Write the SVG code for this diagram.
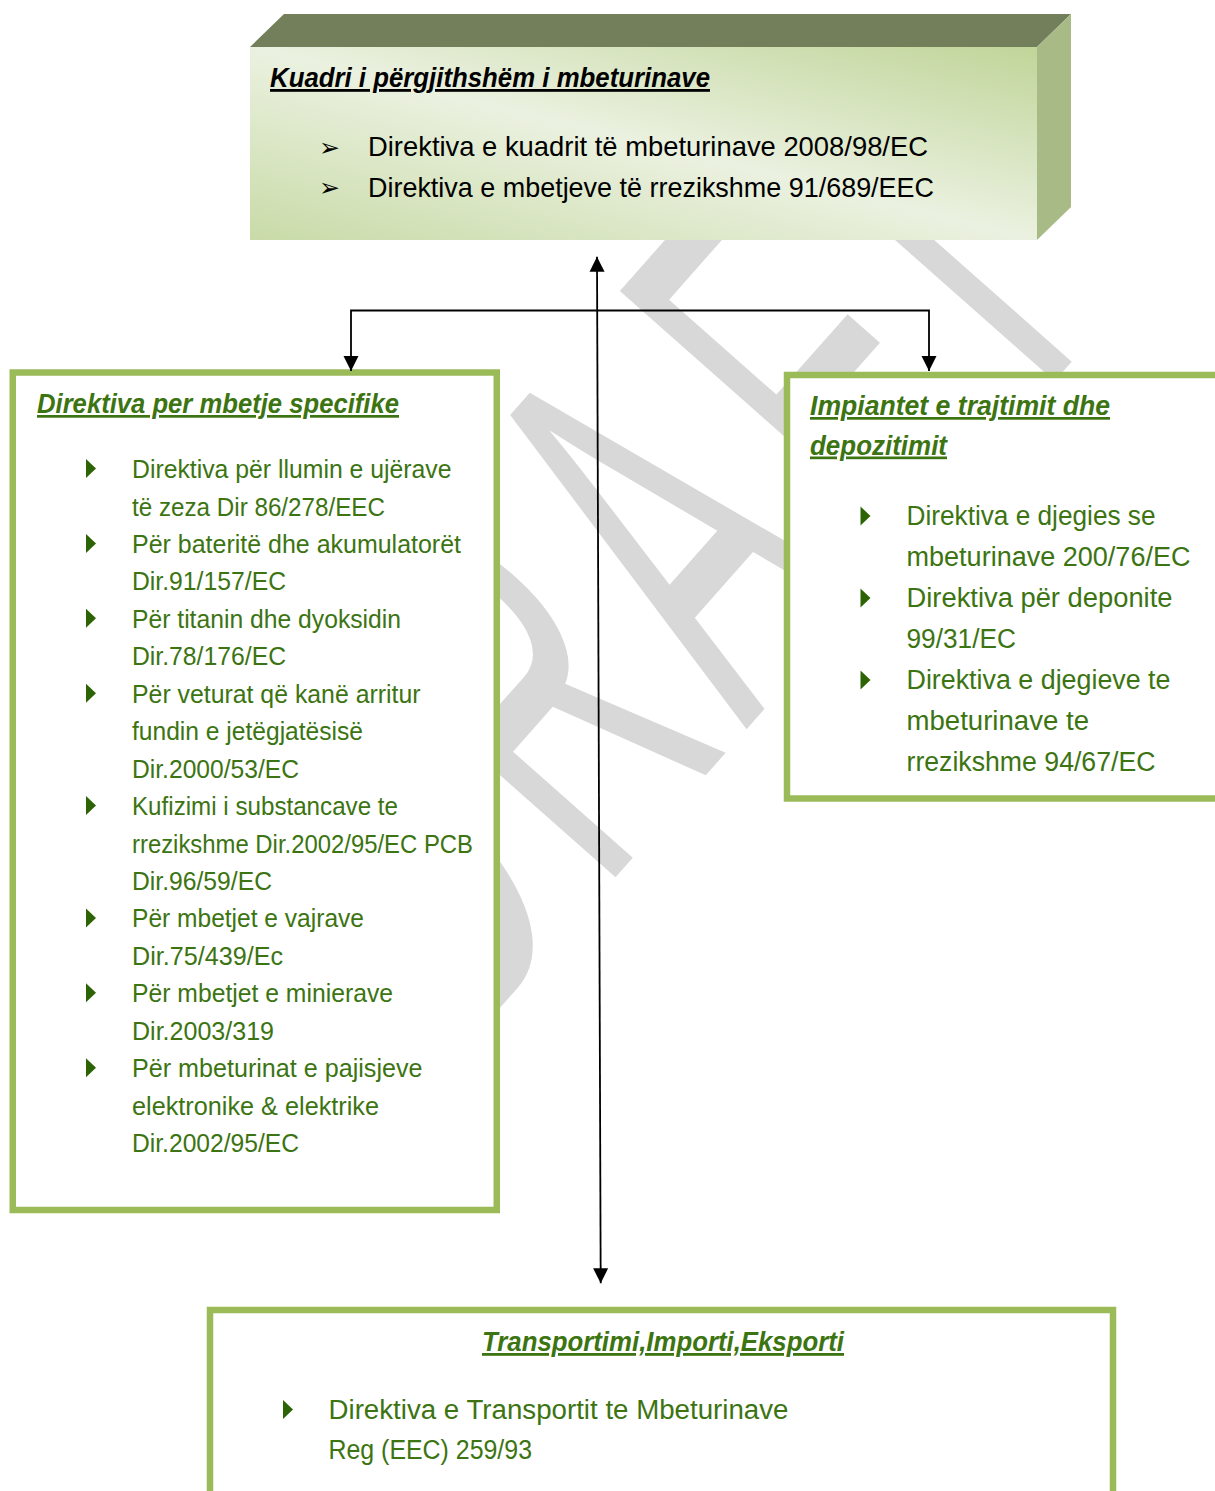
<svg xmlns="http://www.w3.org/2000/svg" width="1215" height="1491" viewBox="0 0 1215 1491">
<style>
.box{fill:#ffffff;stroke:#9bbb59;stroke-width:6.5}
.gt{fill:#3c7412;font-family:'Liberation Sans',Arial,sans-serif;font-weight:bold;font-style:italic;text-decoration:underline}
.gl{fill:#3c7412;font-family:'Liberation Sans',Arial,sans-serif;font-size:25px}
.gr{fill:#3c7412;font-family:'Liberation Sans',Arial,sans-serif;font-size:27px}
.bk{fill:#000000;font-family:'Liberation Sans',Arial,sans-serif;font-size:28px}
.arw{fill:#000000;font-family:'DejaVu Sans',sans-serif;font-size:25px}
.conn{fill:none;stroke:#000000;stroke-width:1.8}
</style>
<defs>
<linearGradient id="front" x1="0" y1="1" x2="1" y2="0">
<stop offset="0" stop-color="#c9dba8"/>
<stop offset="0.5" stop-color="#ebf1e0"/>
<stop offset="1" stop-color="#c0d599"/>
</linearGradient>
<path id="tri" d="M0,0 L10,9.5 L0,19 Z" fill="#2c6304"/>
<marker id="arr" markerUnits="userSpaceOnUse" markerWidth="16" markerHeight="16" viewBox="0 0 16 16" refX="15" refY="8" orient="auto-start-reverse">
<path d="M0,0.5 L15,8 L0,15.5 Z" fill="#000000"/>
</marker>
</defs>

<g id="watermark">
<text transform="translate(454.4,1059.4) rotate(-48.5) scale(0.5,1)" dx="0 36 36 70 0" font-family="'Liberation Sans',Arial,sans-serif" font-size="560" fill="#d8d8d8">DRAFT</text>
</g>

<g id="node-top">
<polygon points="250,47 284,14 1071,14 1037,47" fill="#737e5b"/>
<polygon points="1037,47 1071,14 1071,207 1037,240" fill="#a8ba86"/>
<rect x="250" y="47" width="787" height="193" fill="url(#front)"/>
<text class="bk" x="270" y="87" font-size="26" font-weight="bold" font-style="italic" text-decoration="underline" textLength="440" lengthAdjust="spacingAndGlyphs">Kuadri i përgjithshëm i mbeturinave</text>
<text class="arw" x="319" y="156">➢</text>
<text class="bk" x="368" y="156" textLength="560" lengthAdjust="spacingAndGlyphs">Direktiva e kuadrit të mbeturinave 2008/98/EC</text>
<text class="arw" x="319" y="196">➢</text>
<text class="bk" x="368" y="196.5" textLength="566" lengthAdjust="spacingAndGlyphs">Direktiva e mbetjeve të rrezikshme 91/689/EEC</text>
</g>

<g id="node-left">
<rect class="box" x="12.75" y="372.5" width="484" height="837.5"/>
<text class="gt" x="37" y="413" font-size="27" textLength="362" lengthAdjust="spacingAndGlyphs">Direktiva per mbetje specifike</text>
<use href="#tri" x="86" y="459"/>
<use href="#tri" x="86" y="533.9"/>
<use href="#tri" x="86" y="608.8"/>
<use href="#tri" x="86" y="683.7"/>
<use href="#tri" x="86" y="796"/>
<use href="#tri" x="86" y="908.4"/>
<use href="#tri" x="86" y="983.3"/>
<use href="#tri" x="86" y="1058.2"/>
<text class="gl" x="132" y="478" textLength="319.5" lengthAdjust="spacingAndGlyphs">Direktiva për llumin e ujërave</text>
<text class="gl" x="132" y="515.5" textLength="253" lengthAdjust="spacingAndGlyphs">të zeza  Dir 86/278/EEC</text>
<text class="gl" x="132" y="552.9" textLength="329" lengthAdjust="spacingAndGlyphs">Për bateritë dhe akumulatorët</text>
<text class="gl" x="132" y="590.4" textLength="154" lengthAdjust="spacingAndGlyphs">Dir.91/157/EC</text>
<text class="gl" x="132" y="627.8" textLength="269" lengthAdjust="spacingAndGlyphs">Për titanin dhe dyoksidin</text>
<text class="gl" x="132" y="665.3" textLength="154" lengthAdjust="spacingAndGlyphs">Dir.78/176/EC</text>
<text class="gl" x="132" y="702.7" textLength="288.5" lengthAdjust="spacingAndGlyphs">Për veturat që kanë arritur</text>
<text class="gl" x="132" y="740.2" textLength="231" lengthAdjust="spacingAndGlyphs">fundin e jetëgjatësisë</text>
<text class="gl" x="132" y="777.6" textLength="167" lengthAdjust="spacingAndGlyphs">Dir.2000/53/EC</text>
<text class="gl" x="132" y="815" textLength="266" lengthAdjust="spacingAndGlyphs">Kufizimi i substancave te</text>
<text class="gl" x="132" y="852.5" textLength="341" lengthAdjust="spacingAndGlyphs">rrezikshme Dir.2002/95/EC PCB</text>
<text class="gl" x="132" y="890" textLength="140" lengthAdjust="spacingAndGlyphs">Dir.96/59/EC</text>
<text class="gl" x="132" y="927.4" textLength="232" lengthAdjust="spacingAndGlyphs">Për mbetjet e vajrave</text>
<text class="gl" x="132" y="964.9" textLength="151" lengthAdjust="spacingAndGlyphs">Dir.75/439/Ec</text>
<text class="gl" x="132" y="1002.3" textLength="261" lengthAdjust="spacingAndGlyphs">Për mbetjet e minierave</text>
<text class="gl" x="132" y="1039.8" textLength="142" lengthAdjust="spacingAndGlyphs">Dir.2003/319</text>
<text class="gl" x="132" y="1077.2" textLength="290.5" lengthAdjust="spacingAndGlyphs">Për mbeturinat  e pajisjeve</text>
<text class="gl" x="132" y="1114.7" textLength="247" lengthAdjust="spacingAndGlyphs">elektronike &amp; elektrike</text>
<text class="gl" x="132" y="1152.1" textLength="167" lengthAdjust="spacingAndGlyphs">Dir.2002/95/EC</text>
</g>

<g id="node-right">
<rect class="box" x="787" y="375" width="440" height="423.5"/>
<text class="gt" x="810" y="415" font-size="27" textLength="300" lengthAdjust="spacingAndGlyphs">Impiantet e trajtimit dhe</text>
<text class="gt" x="810" y="454.5" font-size="27" textLength="137" lengthAdjust="spacingAndGlyphs">depozitimit</text>
<use href="#tri" x="860.5" y="506.5"/>
<use href="#tri" x="860.5" y="588.5"/>
<use href="#tri" x="860.5" y="670.5"/>
<text class="gr" x="906.5" y="525" textLength="249" lengthAdjust="spacingAndGlyphs">Direktiva e djegies se</text>
<text class="gr" x="906.5" y="566" textLength="284" lengthAdjust="spacingAndGlyphs">mbeturinave 200/76/EC</text>
<text class="gr" x="906.5" y="607" textLength="266" lengthAdjust="spacingAndGlyphs">Direktiva për deponite</text>
<text class="gr" x="906.5" y="648" textLength="109.5" lengthAdjust="spacingAndGlyphs">99/31/EC</text>
<text class="gr" x="906.5" y="689" textLength="264" lengthAdjust="spacingAndGlyphs">Direktiva e djegieve te</text>
<text class="gr" x="906.5" y="730" textLength="182.5" lengthAdjust="spacingAndGlyphs">mbeturinave te</text>
<text class="gr" x="906.5" y="771" textLength="249" lengthAdjust="spacingAndGlyphs">rrezikshme 94/67/EC</text>
</g>

<g id="node-bottom">
<rect class="box" x="210" y="1310" width="903" height="300"/>
<text class="gt" x="482" y="1351" font-size="28" textLength="362" lengthAdjust="spacingAndGlyphs">Transportimi,Importi,Eksporti</text>
<use href="#tri" x="283" y="1400"/>
<text class="gr" x="328.5" y="1419" textLength="460" lengthAdjust="spacingAndGlyphs">Direktiva e Transportit te Mbeturinave</text>
<text class="gr" x="328.5" y="1459" textLength="203.5" lengthAdjust="spacingAndGlyphs">Reg (EEC) 259/93</text>
</g>

<g id="connectors">
<path class="conn" d="M597,256.7 L600.7,1283.3" marker-start="url(#arr)" marker-end="url(#arr)"/>
<path class="conn" d="M351,371 V310.5 H929 V371" marker-start="url(#arr)" marker-end="url(#arr)"/>
</g>
</svg>
